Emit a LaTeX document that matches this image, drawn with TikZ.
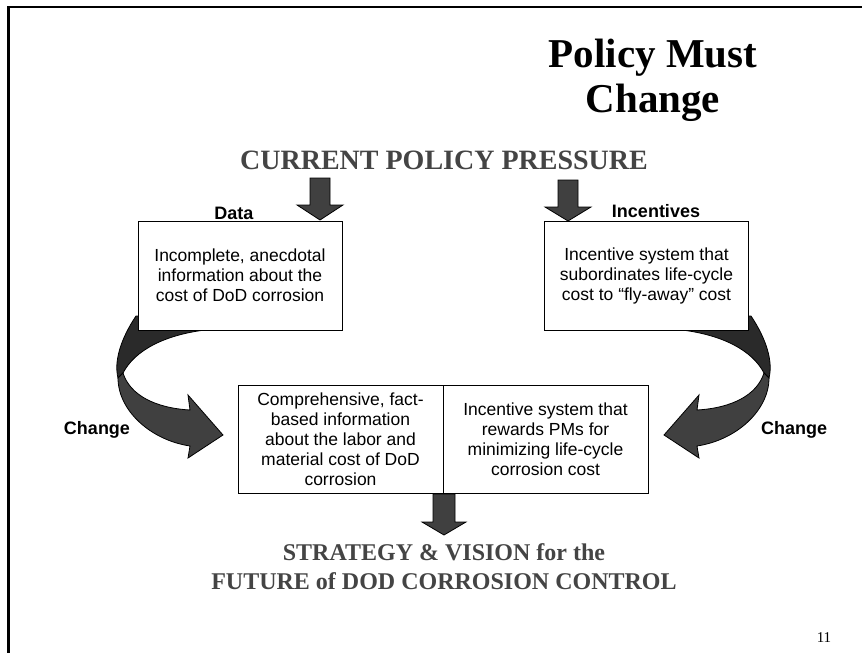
\documentclass[tikz,border=0pt]{standalone}
\usepackage{fontspec}
\setmainfont{Liberation Sans}
\newfontfamily\titlefont{Liberation Serif}
\usetikzlibrary{positioning}
\definecolor{arrowgray}{RGB}{64,64,64}
\definecolor{backgray}{RGB}{42,42,42}
\definecolor{headgray}{RGB}{68,68,68}
\tikzset{infobox/.style={draw, fill=white, line width=0.9pt, minimum width=204pt, minimum height=109pt, inner sep=0pt, align=center, font=\fontsize{17.5}{20}\selectfont},
         tag/.style={font=\bfseries\fontsize{18}{20}\selectfont},
         headline/.style={font=\titlefont\bfseries\fontsize{28}{32}\selectfont, text=headgray, align=center},
         blockarrow/.style={draw=black, fill=arrowgray, line width=0.8pt, line join=miter},
         ribbonback/.style={draw=black, fill=backgray, line width=0.8pt},
         ribbonfront/.style={draw=black, fill=arrowgray, line width=0.8pt, line join=miter},
        }

\begin{document}
\begin{tikzpicture}[x=1pt,y=-1pt]
        \useasboundingbox (0,0) rectangle (862,653);
        \draw[line width=2.5pt](8.5,653)--(8.5,7)--(862,7);

        \node[font=\titlefont\bfseries\fontsize{41}{45}\selectfont, align=center](title)at(653,80){Policy Must\\Change};
        \node[headline](pressure)at(444,160){CURRENT POLICY PRESSURE};

        % curved arrows, drawn before the boxes
        \draw[ribbonback](136,316)..controls(120,340)and(114,362)..(118,378)--(123,373)
            ..controls(135,350)and(165,335)..(205,330)--(205,318)--cycle;
        \draw[ribbonfront](118,378)..controls(118,410)and(150,440)..(190,446)--(188,458)--(223,435)
            --(188,395)--(190,410)..controls(155,408)and(130,395)..(123,373)--cycle;
        \draw[ribbonback](751,316)..controls(767,340)and(773,362)..(769,378)--(764,373)
            ..controls(752,350)and(722,335)..(682,330)--(682,318)--cycle;
        \draw[ribbonfront](769,378)..controls(769,410)and(737,440)..(697,446)--(699,458)--(664,435)
            --(699,395)--(697,410)..controls(732,408)and(757,395)..(764,373)--cycle;

        \node[infobox](data)at(240,275.5){Incomplete, anecdotal\\information about the\\cost of DoD corrosion};
        \node[infobox](incent)at(646.5,276){Incentive system that\\subordinates life-cycle\\cost to “fly-away” cost};
        \node[tag](datatag)at(234,213){Data};
        \node[tag](incenttag)at(656,211){Incentives};

        \node[infobox, minimum width=205pt, minimum height=108pt](comp)at(340.5,439){Comprehensive, fact-\\based information\\about the labor and\\material cost of DoD\\corrosion};
        \node[infobox, minimum width=205pt, minimum height=108pt](reward)at(545.5,439){Incentive system that\\rewards PMs for\\minimizing life-cycle\\corrosion cost};
        \node[tag, anchor=base](changeL)at(97,434){Change};
        \node[tag, anchor=base](changeR)at(794,434){Change};

        \coordinate(dataIn)at(320,220);
        \coordinate(incentIn)at(568,221);
        \coordinate(strategyIn)at(444,535);
        \draw[blockarrow](dataIn)--++(23,-15)--++(-13,0)--++(0,-27)--++(-20,0)--++(0,27)--++(-13,0)--cycle;
        \draw[blockarrow](incentIn)--++(23,-14)--++(-13,0)--++(0,-27)--++(-20,0)--++(0,27)--++(-13,0)--cycle;
        \draw[blockarrow](strategyIn)--++(22,-13)--++(-11,0)--++(0,-28)--++(-22,0)--++(0,28)--++(-11,0)--cycle;

        \node[headline, font=\titlefont\bfseries\fontsize{24}{29}\selectfont](strategy)at(444,567){STRATEGY \& VISION for the\\FUTURE of DOD CORROSION CONTROL};
        \node[font=\titlefont\fontsize{15}{17}\selectfont](page)at(824,638){11};
    \end{tikzpicture}
\end{document}
